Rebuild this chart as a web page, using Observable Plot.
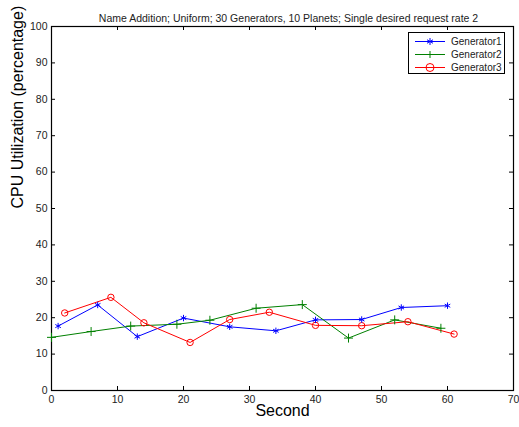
<!DOCTYPE html>
<html><head><meta charset="utf-8">
<script src="https://cdn.jsdelivr.net/npm/d3@7"></script>
<script src="https://cdn.jsdelivr.net/npm/@observablehq/plot@0.6"></script>
<style>
body{margin:0;background:#fff;font-family:"Liberation Sans",Arial,sans-serif;}
#wrap{position:relative;width:519px;height:427px;}
#legend{position:absolute;left:408px;top:32px;width:97px;height:42px;border:1px solid #000;background:#fff;font-size:10px;box-sizing:border-box;}
#legend .row{position:absolute;left:0;height:13px;display:flex;align-items:center;}
#legend svg{display:block;}
</style></head>
<body><div id="wrap"><div id="chart"></div><div id="legend"></div></div>
<script>
const title = "Name Addition; Uniform; 30 Generators, 10 Planets; Single desired request rate 2";
const xLabel = "Second";
const yLabel = "CPU Utilization (percentage)";
const xTicks = [0,10,20,30,40,50,60,70];
const yTicks = [0,10,20,30,40,50,60,70,80,90,100];
const seriesNames = ["Generator1","Generator2","Generator3"];
const seriesColors = ["#0000ff","#008000","#ff0000"];
const seriesSymbols = ["asterisk","plus","circle"];
const gen1X = [1,7,13,20,27,34,40,47,53,60];
const gen1Y = [17.7,23.5,14.8,19.9,17.5,16.4,19.4,19.5,22.8,23.3];
const gen2X = [0,6,12,19,24,31,38,45,52,59];
const gen2Y = [14.6,16.2,17.7,18.2,19.3,22.6,23.6,14.4,19.4,17.1];
const gen3X = [2,9,14,21,27,33,40,47,54,61];
const gen3Y = [21.3,25.6,18.6,13.2,19.5,21.5,17.9,17.8,18.9,15.5];

const xs = [gen1X, gen2X, gen3X], ys = [gen1Y, gen2Y, gen3Y];
const data = [];
seriesNames.forEach((s, i) => xs[i].forEach((x, j) => data.push({series: s, x, y: ys[i][j]})));

const W = 519, H = 427, mL = 51, mR = 6, mT = 26, mB = 37;
const fw = W - mL - mR, fh = H - mT - mB, tl = 4;
const xMax = 70, yMax = 100;
const tx = tl * xMax / fw, ty = tl * yMax / fh;

const chart = Plot.plot({
  width: W, height: H,
  marginLeft: mL, marginRight: mR, marginTop: mT, marginBottom: mB,
  style: {fontFamily: "Liberation Sans, Arial, sans-serif", color: "#222"},
  x: {domain: [0, xMax]},
  y: {domain: [0, yMax]},
  color: {domain: seriesNames, range: seriesColors},
  symbol: {domain: seriesNames, range: seriesSymbols},
  marks: [
    Plot.axisX(xTicks, {anchor: "bottom", tickSize: 0, tickPadding: 5, fontSize: 10.5, label: null}),
    Plot.axisY(yTicks, {anchor: "left", tickSize: 0, tickPadding: 4, fontSize: 10.5, label: null}),
    Plot.ruleX(xTicks, {x: d => d, y1: 0, y2: ty, stroke: "#000"}),
    Plot.ruleX(xTicks, {x: d => d, y1: yMax - ty, y2: yMax, stroke: "#000"}),
    Plot.ruleY(yTicks, {y: d => d, x1: 0, x2: tx, stroke: "#000"}),
    Plot.ruleY(yTicks, {y: d => d, x1: xMax - tx, x2: xMax, stroke: "#000"}),
    Plot.frame({stroke: "black", strokeWidth: 1.2}),
    Plot.line(data, {x: "x", y: "y", z: "series", stroke: "series", strokeWidth: 1}),
    Plot.dot(data, {x: "x", y: "y", stroke: "series", symbol: "series", r: d => d.series === "Generator3" ? 4 : 3.5, fill: "none", strokeWidth: 1}),
    Plot.text([title], {frameAnchor: "top", dy: -12, dx: 6, fontSize: 10.5, fill: "#222"}),
    Plot.text([xLabel], {frameAnchor: "bottom", dy: 25, fontSize: 16, fill: "#000"}),
    Plot.text([yLabel], {frameAnchor: "left", dx: -34, rotate: -90, fontSize: 16, fill: "#000"})
  ]
});
document.getElementById("chart").appendChild(chart);

const legend = document.getElementById("legend");
const symPaths = {
  asterisk: '<path d="M0,-3.5V3.5M-3,-1.75L3,1.75M-3,1.75L3,-1.75" fill="none"/>',
  plus: '<path d="M-3.5,0H3.5M0,-3.5V3.5" fill="none"/>',
  circle: '<circle r="4" fill="none"/>'
};
seriesNames.forEach((s, i) => {
  const row = document.createElement("div");
  row.className = "row";
  row.style.top = (2 + i * 13) + "px";
  row.innerHTML = `<svg width="42" height="13"><g stroke="${seriesColors[i]}" stroke-width="1"><line x1="6" x2="36" y1="6.5" y2="6.5"/><g transform="translate(21,6.5)">${symPaths[seriesSymbols[i]]}</g></g></svg><span style="color:#222">${s}</span>`;
  legend.appendChild(row);
});
</script></body></html>
